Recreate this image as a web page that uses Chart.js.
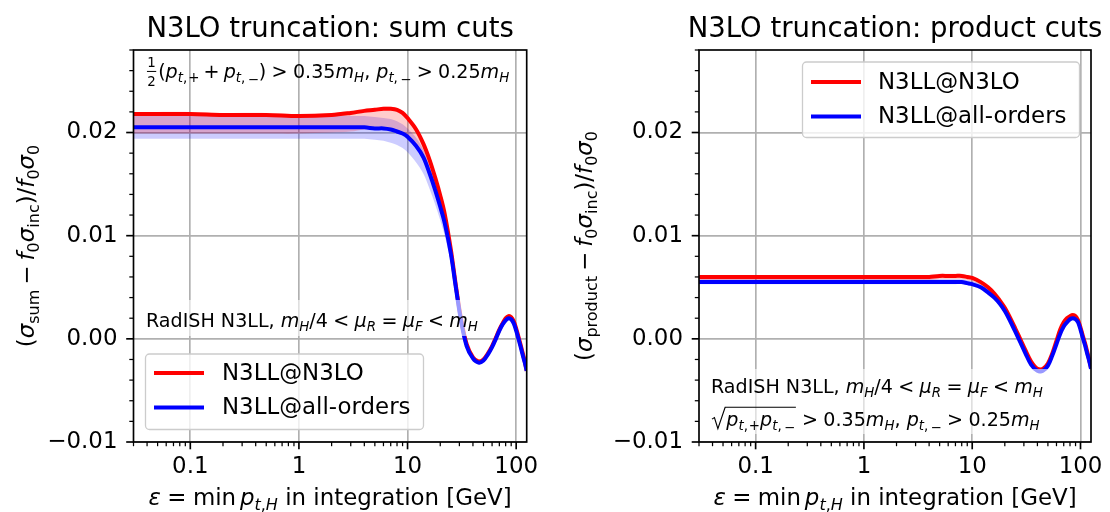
<!DOCTYPE html>
<html>
<head>
<meta charset="utf-8">
<script src="https://cdn.jsdelivr.net/npm/chart.js@4.4.1/dist/chart.umd.min.js"></script>
<style>
  html, body { margin: 0; padding: 0; background: #ffffff; }
  #wrap { position: relative; width: 1110px; height: 512px; overflow: hidden; }
  canvas { position: absolute; top: 0; }
</style>
</head>
<body>
<div id="wrap">
  <canvas id="sumCuts" width="555" height="512" style="left:0px"></canvas>
  <canvas id="prodCuts" width="555" height="512" style="left:555px"></canvas>
</div>
<script>
// ---- data: min pt,H cut in GeV and (sigma_cut - f0 sigma_inc)/f0 sigma0 ----
const ptMin = [0.03, 0.05, 0.1, 0.2, 0.5, 1, 2, 3, 4, 5, 6, 7, 8, 9, 10, 12, 14, 16, 18, 20, 22, 25, 28, 31, 35, 40, 45, 50, 55, 60, 65, 70, 75, 80, 85, 90, 95, 100, 105, 110, 115, 120, 125];

const seriesNames = ['N3LL@N3LO', 'N3LL@all-orders'];

// sum cuts
const sumN3LO   = [0.0218, 0.0218, 0.0218, 0.0217, 0.0217, 0.0216, 0.0217, 0.0219, 0.0221, 0.0222, 0.0223, 0.0223, 0.0222, 0.0219, 0.0214, 0.0203, 0.0189, 0.0173, 0.0156, 0.0139, 0.0121, 0.0087, 0.0050, 0.0020, -0.0005, -0.0018, -0.0022, -0.0020, -0.0014, -0.0007, 0.0001, 0.0009, 0.0015, 0.0020, 0.0022, 0.0021, 0.0017, 0.0010, 0.0002, -0.0006, -0.0014, -0.0022, -0.0031];
const sumN3LOHi = [0.0220, 0.0220, 0.0220, 0.0219, 0.0219, 0.0218, 0.0219, 0.0221, 0.0223, 0.0224, 0.0225, 0.0225, 0.0224, 0.0221, 0.0216, 0.0205, 0.0191, 0.0175, 0.0158, 0.0141, 0.0123, 0.0089, 0.0052, 0.0022, -0.0003, -0.0016, -0.0020, -0.0018, -0.0012, -0.0005, 0.0003, 0.0011, 0.0017, 0.0022, 0.0024, 0.0023, 0.0019, 0.0012, 0.0004, -0.0004, -0.0012, -0.0020, -0.0029];
const sumN3LOLo = [0.0199, 0.0199, 0.0199, 0.0199, 0.0199, 0.0199, 0.0200, 0.0201, 0.0203, 0.0204, 0.0204, 0.0203, 0.0201, 0.0198, 0.0194, 0.0185, 0.0174, 0.0158, 0.0142, 0.0126, 0.0110, 0.0081, 0.0045, 0.0016, -0.0008, -0.0020, -0.0024, -0.0022, -0.0016, -0.0009, -0.0001, 0.0007, 0.0013, 0.0017, 0.0019, 0.0018, 0.0014, 0.0007, -0.0001, -0.0009, -0.0017, -0.0024, -0.0033];
const sumAll    = [0.0205, 0.0205, 0.0205, 0.0205, 0.0205, 0.0205, 0.0205, 0.0205, 0.0205, 0.0204, 0.0204, 0.0203, 0.0201, 0.0199, 0.0196, 0.0187, 0.0176, 0.0160, 0.0144, 0.0128, 0.0112, 0.0083, 0.0048, 0.0018, -0.0007, -0.0019, -0.0023, -0.0021, -0.0015, -0.0008, 0.0000, 0.0008, 0.0014, 0.0018, 0.0020, 0.0019, 0.0015, 0.0008, 0.0000, -0.0008, -0.0016, -0.0023, -0.0031];
const sumAllHi  = [0.0217, 0.0217, 0.0217, 0.0217, 0.0217, 0.0217, 0.0217, 0.0216, 0.0216, 0.0215, 0.0214, 0.0213, 0.0211, 0.0208, 0.0204, 0.0195, 0.0183, 0.0167, 0.0151, 0.0134, 0.0117, 0.0086, 0.0050, 0.0020, -0.0005, -0.0017, -0.0021, -0.0019, -0.0013, -0.0006, 0.0002, 0.0010, 0.0016, 0.0020, 0.0022, 0.0021, 0.0017, 0.0010, 0.0002, -0.0006, -0.0014, -0.0021, -0.0029];
const sumAllLo  = [0.0194, 0.0194, 0.0194, 0.0194, 0.0194, 0.0194, 0.0194, 0.0194, 0.0194, 0.0193, 0.0192, 0.0190, 0.0188, 0.0185, 0.0181, 0.0171, 0.0160, 0.0145, 0.0130, 0.0115, 0.0100, 0.0074, 0.0042, 0.0014, -0.0009, -0.0021, -0.0025, -0.0023, -0.0017, -0.0010, -0.0002, 0.0006, 0.0012, 0.0016, 0.0018, 0.0017, 0.0013, 0.0006, -0.0002, -0.0010, -0.0018, -0.0025, -0.0033];

// product cuts
const prodN3LO   = [0.0060, 0.0060, 0.0060, 0.0060, 0.0060, 0.0060, 0.0060, 0.0060, 0.0060, 0.0061, 0.0061, 0.0061, 0.0061, 0.0060, 0.0059, 0.0055, 0.0050, 0.0044, 0.0037, 0.0030, 0.0022, 0.0010, -0.0001, -0.0011, -0.0022, -0.0029, -0.0029, -0.0024, -0.0014, -0.0002, 0.0009, 0.0016, 0.0020, 0.0022, 0.0023, 0.0022, 0.0018, 0.0011, 0.0003, -0.0004, -0.0012, -0.0020, -0.0028];
const prodN3LOHi = [0.0062, 0.0062, 0.0062, 0.0062, 0.0062, 0.0062, 0.0062, 0.0062, 0.0062, 0.0063, 0.0063, 0.0063, 0.0063, 0.0062, 0.0061, 0.0057, 0.0052, 0.0046, 0.0039, 0.0032, 0.0024, 0.0012, 0.0001, -0.0009, -0.0020, -0.0027, -0.0027, -0.0022, -0.0012, 0.0000, 0.0011, 0.0018, 0.0022, 0.0024, 0.0025, 0.0024, 0.0020, 0.0013, 0.0005, -0.0002, -0.0010, -0.0018, -0.0026];
const prodN3LOLo = [0.0057, 0.0057, 0.0057, 0.0057, 0.0057, 0.0057, 0.0057, 0.0057, 0.0057, 0.0058, 0.0058, 0.0058, 0.0058, 0.0057, 0.0056, 0.0052, 0.0047, 0.0041, 0.0034, 0.0027, 0.0019, 0.0007, -0.0004, -0.0014, -0.0025, -0.0032, -0.0032, -0.0027, -0.0017, -0.0005, 0.0006, 0.0013, 0.0017, 0.0019, 0.0020, 0.0019, 0.0015, 0.0008, 0.0000, -0.0007, -0.0015, -0.0023, -0.0031];
const prodAll    = [0.0055, 0.0055, 0.0055, 0.0055, 0.0055, 0.0055, 0.0055, 0.0055, 0.0055, 0.0055, 0.0055, 0.0055, 0.0055, 0.0054, 0.0053, 0.0050, 0.0045, 0.0040, 0.0034, 0.0027, 0.0019, 0.0007, -0.0004, -0.0014, -0.0025, -0.0031, -0.0031, -0.0026, -0.0016, -0.0005, 0.0005, 0.0012, 0.0016, 0.0019, 0.0020, 0.0019, 0.0016, 0.0009, 0.0001, -0.0006, -0.0014, -0.0021, -0.0029];
const prodAllHi  = [0.0058, 0.0058, 0.0058, 0.0058, 0.0058, 0.0058, 0.0058, 0.0058, 0.0058, 0.0058, 0.0058, 0.0058, 0.0058, 0.0057, 0.0056, 0.0053, 0.0048, 0.0043, 0.0037, 0.0030, 0.0022, 0.0010, -0.0001, -0.0011, -0.0022, -0.0028, -0.0028, -0.0023, -0.0013, -0.0002, 0.0008, 0.0015, 0.0019, 0.0022, 0.0023, 0.0022, 0.0019, 0.0012, 0.0004, -0.0003, -0.0011, -0.0018, -0.0026];
const prodAllLo  = [0.0053, 0.0053, 0.0053, 0.0053, 0.0053, 0.0053, 0.0053, 0.0053, 0.0053, 0.0053, 0.0053, 0.0053, 0.0053, 0.0052, 0.0051, 0.0048, 0.0043, 0.0038, 0.0032, 0.0025, 0.0017, 0.0005, -0.0006, -0.0016, -0.0027, -0.0033, -0.0033, -0.0028, -0.0018, -0.0007, 0.0003, 0.0010, 0.0014, 0.0017, 0.0018, 0.0017, 0.0014, 0.0007, -0.0001, -0.0008, -0.0016, -0.0023, -0.0031];

// ---- axes ----
const xRange = [0.03, 125];
const yRange = [-0.01, 0.028];
const xMajorTicks = [0.1, 1, 10, 100];
const xTickLabels = ['0.1', '1', '10', '100'];
const xMinorTicks = [0.03, 0.04, 0.05, 0.06, 0.07, 0.08, 0.09, 0.2, 0.3, 0.4, 0.5, 0.6, 0.7, 0.8, 0.9,
                     2, 3, 4, 5, 6, 7, 8, 9, 20, 30, 40, 50, 60, 70, 80, 90];
const yMajorTicks = [-0.01, 0, 0.01, 0.02];
const yTickLabels = ['\u22120.01', '0.00', '0.01', '0.02'];
const yMinorTicks = [-0.008, -0.006, -0.004, -0.002, 0.002, 0.004, 0.006, 0.008, 0.012, 0.014, 0.016, 0.018,
                     0.022, 0.024, 0.026, 0.028];

const FAMILY = '"DejaVu Sans", sans-serif';
const TICK_SIZE = 22.9, TITLE_SIZE = 27.5, LABEL_SIZE = 22.9, NOTE_SIZE = 19.1, LEGEND_SIZE = 22.9;
const RED = '#ff0000', BLUE = '#0000ff';

const near = (a, b) => Math.abs(a - b) < 1e-9 * Math.max(1, Math.abs(b)) || Math.abs(a - b) < 1e-12;
const findIdx = (list, v) => list.findIndex(m => near(m, v));

// ---- small math-text renderer (italics, subscripts, fraction, radical) ----
function fnt(size, italic) { return (italic ? 'italic ' : '') + size.toFixed(2) + 'px ' + FAMILY; }

function layoutRuns(ctx, runs, size) {
  const items = []; let x = 0;
  for (let r of runs) {
    if (typeof r === 'string') r = { t: r };
    if (r.g != null) { x += r.g * size; continue; }
    if (r.frac) {
      const fs = size * 0.7; ctx.font = fnt(fs, false);
      const w = Math.max(ctx.measureText(r.frac[0]).width, ctx.measureText(r.frac[1]).width) + size * 0.14;
      items.push({ k: 'frac', x, w, fs, parts: r.frac });
      x += w + size * 0.05; continue;
    }
    if (r.sqrt) {
      const inner = layoutRuns(ctx, r.sqrt, size); const sw = size * 0.8;
      items.push({ k: 'sqrt', x, sw, inner });
      x += sw + inner.w + size * 0.08; continue;
    }
    const fs = r.b ? size * 0.7 : size;
    ctx.font = fnt(fs, !!r.i);
    const w = ctx.measureText(r.t).width;
    items.push({ k: 't', x, t: r.t, font: ctx.font, dy: r.b ? size * (r.low ? 0.32 : 0.22) : 0 });
    x += w;
  }
  return { items, w: x };
}

function paintRuns(ctx, lay, x0, y0, size) {
  ctx.textAlign = 'left'; ctx.textBaseline = 'alphabetic';
  for (const it of lay.items) {
    if (it.k === 't') {
      ctx.font = it.font; ctx.fillText(it.t, x0 + it.x, y0 + it.dy);
    } else if (it.k === 'frac') {
      ctx.font = fnt(it.fs, false); ctx.textAlign = 'center';
      const cx = x0 + it.x + it.w / 2;
      ctx.fillText(it.parts[0], cx, y0 - size * 0.6);
      ctx.fillText(it.parts[1], cx, y0 + size * 0.42);
      ctx.fillRect(x0 + it.x + size * 0.05, y0 - size * 0.37, it.w - size * 0.1, Math.max(1, size * 0.05));
      ctx.textAlign = 'left';
    } else if (it.k === 'sqrt') {
      const sx = x0 + it.x;
      ctx.beginPath();
      ctx.moveTo(sx + size * 0.05, y0 - size * 0.36);
      ctx.lineTo(sx + size * 0.18, y0 - size * 0.44);
      ctx.lineTo(sx + size * 0.36, y0 + size * 0.14);
      ctx.lineTo(sx + it.sw - size * 0.06, y0 - size * 0.98);
      ctx.lineTo(sx + it.sw + it.inner.w + size * 0.04, y0 - size * 0.98);
      ctx.lineWidth = Math.max(1, size * 0.06); ctx.strokeStyle = '#000'; ctx.stroke();
      paintRuns(ctx, it.inner, sx + it.sw, y0, size);
    }
  }
}

// label pieces
const I = t => ({ t, i: 1 });           // italic
const S = t => ({ t, b: 1 });           // upright subscript
const SI = t => ({ t, b: 1, i: 1 });    // italic subscript
const SL = t => ({ t, b: 1, low: 1 });  // lowered subscript sign
const G = g => ({ g });                 // gap in em
const REL = s => [G(0.28), s, G(0.28)];
const BIN = s => [G(0.22), s, G(0.22)];

const xLabelRuns = [I('\u03b5'), ...REL('='), 'min', G(0.17), I('p'), SI('t'), S(','), SI('H'), ' in integration [GeV]'];
const yLabelSum = ['(', I('\u03c3'), S('sum'), ...BIN('\u2212'), I('f'), S('0'), I('\u03c3'), S('inc'), ')/', I('f'), S('0'), I('\u03c3'), S('0')];
const yLabelProd = ['(', I('\u03c3'), S('product'), ...BIN('\u2212'), I('f'), S('0'), I('\u03c3'), S('inc'), ')/', I('f'), S('0'), I('\u03c3'), S('0')];
const scaleNote = ['RadISH N3LL, ', I('m'), SI('H'), '/4', ...REL('<'), I('\u03bc'), SI('R'), ...REL('='), I('\u03bc'), SI('F'), ...REL('<'), I('m'), SI('H')];
const ptMinusCut = [I('p'), SI('t'), S(','), G(0.12), SL('\u2212'), ...REL('>'), '0.25', I('m'), SI('H')];
const sumCutNote = [{ frac: ['1', '2'] }, '(', I('p'), SI('t'), S(','), G(0.05), S('+'), ...BIN('+'), I('p'), SI('t'), S(','), G(0.12), SL('\u2212'), ')',
                    ...REL('>'), '0.35', I('m'), SI('H'), ', ', ...ptMinusCut];
const prodCutNote = [{ sqrt: [I('p'), SI('t'), S(','), G(0.05), S('+'), I('p'), SI('t'), S(','), G(0.12), SL('\u2212')] },
                     ...REL('>'), '0.35', I('m'), SI('H'), ', ', ...ptMinusCut];

// ---- overlay drawn through the chart's own hooks ----
function decorPlugin(spec) {
  return {
    id: 'decor',
    afterDraw(chart) {
      const ctx = chart.ctx, ca = chart.chartArea, ox = spec.left;
      const xs = chart.scales.x, ys = chart.scales.y;
      ctx.save();
      ctx.fillStyle = '#000'; ctx.strokeStyle = '#000';

      // translucent boxes behind the notes
      ctx.fillStyle = 'rgba(255,255,255,0.6)';
      for (const b of spec.noteBoxes) ctx.fillRect(b[0] - ox, b[1], b[2] - b[0], b[3] - b[1]);
      ctx.fillStyle = '#000';
      for (const n of spec.notes) paintRuns(ctx, layoutRuns(ctx, n.runs, NOTE_SIZE), n.x - ox, n.y, NOTE_SIZE);

      // legend
      const L = spec.legend;
      ctx.beginPath();
      ctx.roundRect(L.box[0] - ox, L.box[1], L.box[2] - L.box[0], L.box[3] - L.box[1], 4);
      ctx.fillStyle = 'rgba(255,255,255,0.8)'; ctx.fill();
      ctx.lineWidth = 1.3; ctx.strokeStyle = '#cccccc'; ctx.stroke();
      const legendItems = [{ name: seriesNames[0], color: RED }, { name: seriesNames[1], color: BLUE }];
      legendItems.forEach((it, k) => {
        const y = L.rows[k];
        ctx.beginPath(); ctx.moveTo(L.line[0] - ox, y); ctx.lineTo(L.line[1] - ox, y);
        ctx.lineWidth = 4; ctx.strokeStyle = it.color; ctx.lineCap = 'butt'; ctx.stroke();
        ctx.fillStyle = '#000'; ctx.font = fnt(LEGEND_SIZE, false);
        ctx.textAlign = 'left'; ctx.textBaseline = 'middle';
        ctx.fillText(it.name, L.textX - ox, y + 1);
      });

      // frame
      ctx.lineWidth = 1.67; ctx.strokeStyle = '#000';
      ctx.strokeRect(ca.left, ca.top, ca.right - ca.left, ca.bottom - ca.top);

      // tick marks, outward on the bottom and left
      for (const v of [...xMajorTicks, ...xMinorTicks]) {
        const major = findIdx(xMajorTicks, v) >= 0;
        const px = xs.getPixelForValue(v);
        ctx.lineWidth = major ? 1.67 : 1.25;
        ctx.beginPath(); ctx.moveTo(px, ca.bottom); ctx.lineTo(px, ca.bottom + (major ? 7.3 : 4.2)); ctx.stroke();
      }
      for (const v of [...yMajorTicks, ...yMinorTicks]) {
        const major = findIdx(yMajorTicks, v) >= 0;
        const py = ys.getPixelForValue(v);
        ctx.lineWidth = major ? 1.67 : 1.25;
        ctx.beginPath(); ctx.moveTo(ca.left, py); ctx.lineTo(ca.left - (major ? 7.3 : 4.2), py); ctx.stroke();
      }

      // title and axis labels
      ctx.fillStyle = '#000';
      ctx.font = fnt(TITLE_SIZE, false); ctx.textAlign = 'center'; ctx.textBaseline = 'alphabetic';
      ctx.fillText(spec.title, (ca.left + ca.right) / 2, spec.titleY);
      const xl = layoutRuns(ctx, xLabelRuns, LABEL_SIZE);
      paintRuns(ctx, xl, (ca.left + ca.right) / 2 - xl.w / 2, spec.xLabelY, LABEL_SIZE);
      const yl = layoutRuns(ctx, spec.yLabel, LABEL_SIZE);
      ctx.translate(spec.yLabelX - ox, (ca.top + ca.bottom) / 2);
      ctx.rotate(-Math.PI / 2);
      paintRuns(ctx, yl, -yl.w / 2, 0, LABEL_SIZE);
      ctx.restore();
    }
  };
}

function pts(values) { return ptMin.map((x, i) => ({ x, y: values[i] })); }

function makePanel(canvasId, spec, s) {
  const lineBase = { pointRadius: 0, borderWidth: 4, fill: false, tension: 0.35, clip: 0, borderJoinStyle: 'round' };
  const bandBase = { pointRadius: 0, borderWidth: 0, borderColor: 'rgba(0,0,0,0)', tension: 0.35, clip: 0 };
  return new Chart(document.getElementById(canvasId), {
    type: 'line',
    data: {
      datasets: [
        { ...lineBase, label: seriesNames[1], data: pts(s.all), borderColor: BLUE },
        { ...lineBase, label: seriesNames[0], data: pts(s.n3lo), borderColor: RED },
        { ...bandBase, label: 'n3lo-hi', data: pts(s.n3loHi), backgroundColor: 'rgba(255,0,0,0.2)', fill: { target: 3 } },
        { ...bandBase, label: 'n3lo-lo', data: pts(s.n3loLo), fill: false },
        { ...bandBase, label: 'all-hi', data: pts(s.allHi), backgroundColor: 'rgba(0,0,255,0.2)', fill: { target: 5 } },
        { ...bandBase, label: 'all-lo', data: pts(s.allLo), fill: false }
      ]
    },
    options: {
      responsive: false, animation: false, devicePixelRatio: 1,
      layout: { padding: { left: 0, top: spec.plotTop, right: 555 - (spec.plotRight - spec.left), bottom: 0 } },
      plugins: { legend: { display: false }, title: { display: false }, tooltip: { enabled: false } },
      scales: {
        x: {
          type: 'logarithmic', min: xRange[0], max: xRange[1],
          afterBuildTicks: sc => { sc.ticks = [...xMajorTicks, ...xMinorTicks].sort((a, b) => a - b).map(v => ({ value: v })); },
          afterFit: sc => { sc.height = 512 - spec.plotBottom; sc.paddingLeft = 0; sc.paddingRight = 0; },
          ticks: {
            autoSkip: false, maxRotation: 0, minRotation: 0, padding: 11, color: '#000',
            font: { family: 'DejaVu Sans', size: TICK_SIZE },
            callback: v => { const k = findIdx(xMajorTicks, v); return k >= 0 ? xTickLabels[k] : ''; }
          },
          grid: {
            drawTicks: false, lineWidth: 1.67,
            color: c => (c.tick && findIdx(xMajorTicks, c.tick.value) >= 0) ? '#b0b0b0' : 'rgba(0,0,0,0)'
          },
          border: { display: false }
        },
        y: {
          type: 'linear', min: yRange[0], max: yRange[1],
          afterBuildTicks: sc => { sc.ticks = [...yMajorTicks, ...yMinorTicks].sort((a, b) => a - b).map(v => ({ value: v })); },
          afterFit: sc => { sc.width = spec.plotLeft - spec.left; sc.paddingTop = 0; sc.paddingBottom = 0; },
          ticks: {
            autoSkip: false, padding: 16, color: '#000',
            font: { family: 'DejaVu Sans', size: TICK_SIZE },
            callback: v => { const k = findIdx(yMajorTicks, v); return k >= 0 ? yTickLabels[k] : ''; }
          },
          grid: {
            drawTicks: false, lineWidth: 1.67,
            color: c => (c.tick && findIdx(yMajorTicks, c.tick.value) >= 0) ? '#b0b0b0' : 'rgba(0,0,0,0)'
          },
          border: { display: false }
        }
      }
    },
    plugins: [decorPlugin(spec)]
  });
}

makePanel('sumCuts', {
  left: 0, plotLeft: 133.5, plotRight: 526.7, plotTop: 50, plotBottom: 442,
  title: 'N3LO truncation: sum cuts', titleY: 37, xLabelY: 505, yLabelX: 34, yLabel: yLabelSum,
  notes: [{ runs: sumCutNote, x: 146, y: 78 }, { runs: scaleNote, x: 146, y: 327 }],
  noteBoxes: [[141, 300, 484, 336]],
  legend: { box: [145.5, 354, 423.5, 429.5], line: [154, 204], rows: [373, 407.5], textX: 222 }
}, { n3lo: sumN3LO, n3loHi: sumN3LOHi, n3loLo: sumN3LOLo, all: sumAll, allHi: sumAllHi, allLo: sumAllLo });

makePanel('prodCuts', {
  left: 555, plotLeft: 699, plotRight: 1091, plotTop: 50, plotBottom: 442,
  title: 'N3LO truncation: product cuts', titleY: 37, xLabelY: 505, yLabelX: 592, yLabel: yLabelProd,
  notes: [{ runs: scaleNote, x: 711, y: 393 }, { runs: prodCutNote, x: 711, y: 426 }],
  noteBoxes: [[705, 369, 1070, 434]],
  legend: { box: [802.5, 62, 1079.5, 137.5], line: [811, 861], rows: [82, 116.5], textX: 878 }
}, { n3lo: prodN3LO, n3loHi: prodN3LOHi, n3loLo: prodN3LOLo, all: prodAll, allHi: prodAllHi, allLo: prodAllLo });
</script>
</body>
</html>
